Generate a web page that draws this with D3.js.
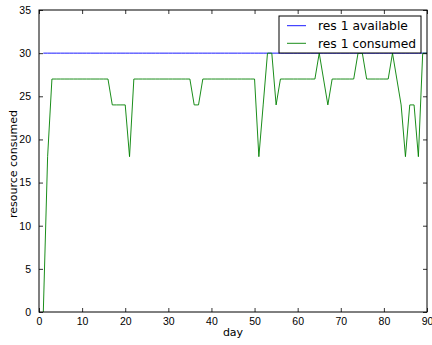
<!DOCTYPE html>
<html>
<head>
<meta charset="utf-8">
<script src="https://cdn.jsdelivr.net/npm/d3@7"></script>
<style>
  body { margin: 0; background: #fff; }
  svg { display: block; font-family: "DejaVu Sans", sans-serif; }
  .tick text { fill: #000; }
</style>
</head>
<body>
<div id="chart"></div>
<script>
"use strict"

// days 1..90
var days = d3.range(1, 91);
var available = days.map(function() { return 30; });
var consumed = [
  0, 18, 27, 27, 27, 27, 27, 27, 27, 27,      // 1-10
  27, 27, 27, 27, 27, 27, 24, 24, 24, 24,     // 11-20
  18, 27, 27, 27, 27, 27, 27, 27, 27, 27,     // 21-30
  27, 27, 27, 27, 27, 24, 24, 27, 27, 27,     // 31-40
  27, 27, 27, 27, 27, 27, 27, 27, 27, 27,     // 41-50
  18, 24, 30, 30, 24, 27, 27, 27, 27, 27,     // 51-60
  27, 27, 27, 27, 30, 27, 24, 27, 27, 27,     // 61-70
  27, 27, 27, 30, 30, 27, 27, 27, 27, 27,     // 71-80
  27, 30, 27, 24, 18, 24, 24, 18, 30, 30      // 81-90
];
var seriesNames = ["res 1 available", "res 1 consumed"];
var seriesColors = ["#0000ff", "#008000"];
var xTicks = [0, 10, 20, 30, 40, 50, 60, 70, 80, 90];
var yTicks = [0, 5, 10, 15, 20, 25, 30, 35];

var size = {width: 432, height: 345};
var margin = {top: 10, right: 5, bottom: 33, left: 39};
var w = size.width - margin.left - margin.right,
    h = size.height - margin.top - margin.bottom;

var svg = d3.select("#chart").append("svg")
    .attr("width", size.width)
    .attr("height", size.height);
var g = svg.append("g")
    .attr("transform", "translate(" + margin.left + "," + margin.top + ")");

var x = d3.scaleLinear().domain([0, 90]).range([0, w]);
var y = d3.scaleLinear().domain([0, 35]).range([h, 0]);

// lines
var data = [available, consumed].map(function(vals, i) {
  return {key: seriesNames[i], color: seriesColors[i],
          values: days.map(function(d, j) { return {day: d, v: vals[j]}; })};
});
var line = d3.line()
    .x(function(d) { return x(d.day); })
    .y(function(d) { return y(d.v); });
g.selectAll(".line").data(data)
  .enter().append("path")
    .attr("class", "line")
    .attr("d", function(d) { return line(d.values); })
    .attr("fill", "none")
    .attr("stroke", function(d) { return d.color; })
    .attr("stroke-width", 0.9);

// axes, classic style: ticks inside on all four sides
function styleAxis(sel, hideText) {
  sel.select(".domain").remove();
  sel.selectAll(".tick line").attr("stroke", "#000").attr("stroke-width", 0.8);
  sel.selectAll(".tick text").style("font-size", "10.5px");
  if (hideText) sel.selectAll(".tick text").remove();
}
g.append("g").attr("transform", "translate(0," + h + ")")
  .call(d3.axisBottom(x).tickValues(xTicks).tickSizeInner(-4).tickPadding(6))
  .call(styleAxis, false);
g.append("g")
  .call(d3.axisTop(x).tickValues(xTicks).tickSizeInner(-4))
  .call(styleAxis, true);
g.append("g")
  .call(d3.axisLeft(y).tickValues(yTicks).tickSizeInner(-4).tickPadding(8))
  .call(styleAxis, false);
g.append("g").attr("transform", "translate(" + w + ",0)")
  .call(d3.axisRight(y).tickValues(yTicks).tickSizeInner(-4))
  .call(styleAxis, true);

// frame
g.append("rect")
  .attr("width", w).attr("height", h)
  .attr("fill", "none").attr("stroke", "#000").attr("stroke-width", 1);

// axis labels
svg.append("text")
  .attr("x", margin.left + w / 2).attr("y", 336)
  .attr("text-anchor", "middle")
  .style("font-size", "11px")
  .text("day");
svg.append("text")
  .attr("transform", "translate(17," + (margin.top + h / 2 + 3) + ") rotate(-90)")
  .attr("text-anchor", "middle")
  .style("font-size", "11px")
  .text("resource consumed");

// legend
var legend = svg.append("g").attr("transform", "translate(279,16)");
legend.append("rect")
  .attr("width", 142).attr("height", 37)
  .attr("fill", "#fff").attr("stroke", "#000").attr("stroke-width", 1);
var items = legend.selectAll(".legend-item").data(data)
  .enter().append("g")
    .attr("class", "legend-item")
    .attr("transform", function(d, i) { return "translate(0," + (9.7 + i * 17.6) + ")"; });
items.append("line")
  .attr("x1", 8).attr("x2", 27)
  .attr("stroke", function(d) { return d.color; })
  .attr("stroke-width", 0.9);
items.append("text")
  .attr("x", 39).attr("y", 4.3)
  .style("font-size", "12.3px")
  .text(function(d) { return d.key; });
</script>
</body>
</html>
